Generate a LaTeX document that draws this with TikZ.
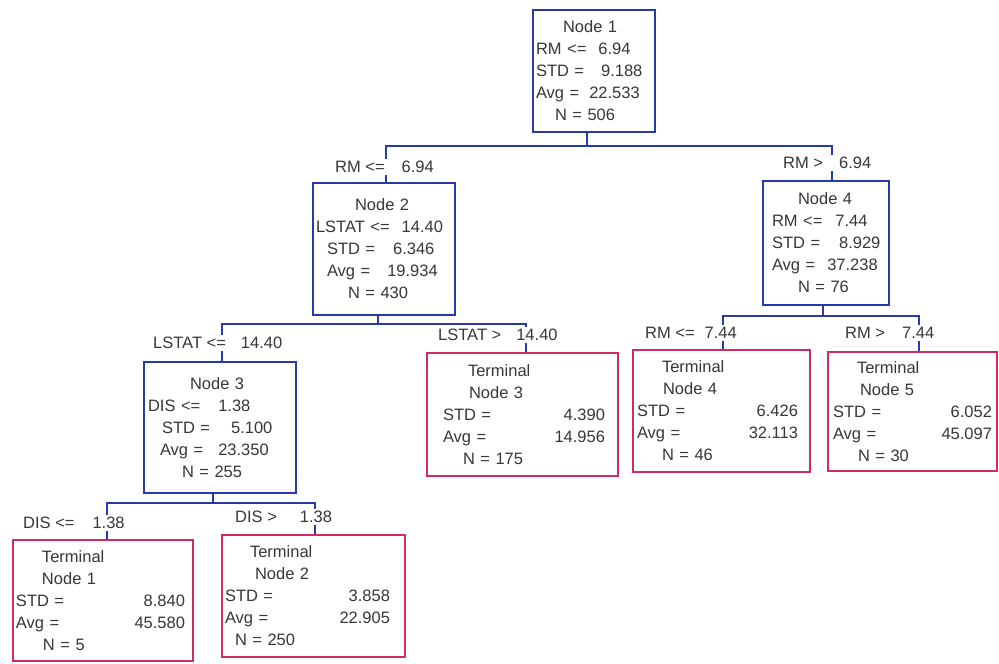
\documentclass[tikz,border=0pt]{standalone}
\usepackage{fontspec}
\setmainfont{Liberation Sans}
\definecolor{treeblue}{RGB}{38,58,168}
\definecolor{leafred}{RGB}{205,45,95}
\definecolor{ink}{RGB}{55,55,60}
\newcommand{\treesize}{\fontsize{16.5}{22}\selectfont}

\begin{document}
\begin{tikzpicture}[x=1pt,y=-1pt,
  split/.style={draw=treeblue, line width=2pt, inner xsep=3pt, inner ysep=0pt,
                align=left, font=\treesize, text=ink},
  leaf/.style={draw=leafred, line width=1.3pt, inner xsep=3pt, inner ysep=0pt,
               align=left, font=\treesize, text=ink},
  link/.style={draw=treeblue, line width=1.6pt},
  cond/.style={fill=white, inner xsep=1pt, inner ysep=2pt, anchor=west,
               font=\treesize, text=ink},
]
\fill[white] (0,0) rectangle (999,664);
\useasboundingbox (0,0) rectangle (999,664);

% ---------- split nodes ----------
\node[split, text width=116pt, minimum height=122pt] (n1) at (594,71)
  {\hspace*{27pt}Node 1\\
   RM <=\hspace{12pt}6.94\\
   STD =\hspace{17pt}9.188\\
   Avg =\hspace{10pt}22.533\\
   \hspace*{19pt}N = 506};

\node[split, text width=136pt, minimum height=132pt] (n2) at (384,249)
  {\hspace*{39pt}Node 2\\
   LSTAT <=\hspace{12pt}14.40\\
   \hspace*{11pt}STD =\hspace{18pt}6.346\\
   \hspace*{11pt}Avg =\hspace{17pt}19.934\\
   \hspace*{32pt}N = 430};

\node[split, text width=120pt, minimum height=124pt] (n4) at (826,243)
  {\hspace*{32pt}Node 4\\
   \hspace*{6pt}RM <=\hspace{13pt}7.44\\
   \hspace*{6pt}STD =\hspace{19pt}8.929\\
   \hspace*{6pt}Avg =\hspace{12pt}37.238\\
   \hspace*{32pt}N = 76};

\node[split, text width=146pt, minimum height=131pt] (n3) at (220,427.5)
  {\hspace*{43pt}Node 3\\
   \hspace*{1pt}DIS <=\hspace{18pt}1.38\\
   \hspace*{15pt}STD =\hspace{21pt}5.100\\
   \hspace*{13pt}Avg =\hspace{15pt}23.350\\
   \hspace*{35pt}N = 255};

% ---------- terminal nodes ----------
\node[leaf, text width=185pt, minimum height=123pt] (t3) at (522.5,414.5)
  {\hspace*{38pt}Terminal\\
   \hspace*{39pt}Node 3\\
   \hspace*{13pt}STD =\hfill 4.390\kern10pt\\
   \hspace*{13pt}Avg =\hfill 14.956\kern10pt\\
   \hspace*{33pt}N = 175};

\node[leaf, text width=171pt, minimum height=122pt] (t4) at (721.5,411)
  {\hspace*{26pt}Terminal\\
   \hspace*{27pt}Node 4\\
   \hspace*{1pt}STD =\hfill 6.426\kern9pt\\
   \hspace*{1pt}Avg =\hfill 32.113\kern9pt\\
   \hspace*{26pt}N = 46};

\node[leaf, text width=163pt, minimum height=119pt] (t5) at (912.5,411.5)
  {\hspace*{26pt}Terminal\\
   \hspace*{29pt}Node 5\\
   \hspace*{2pt}STD =\hfill 6.052\kern2pt\\
   \hspace*{2pt}Avg =\hfill 45.097\kern2pt\\
   \hspace*{27pt}N = 30};

\node[leaf, text width=174pt, minimum height=121pt] (t1) at (103,600.5)
  {\hspace*{26pt}Terminal\\
   \hspace*{26pt}Node 1\\
   STD =\hfill 8.840\kern5pt\\
   Avg =\hfill 45.580\kern5pt\\
   \hspace*{27pt}N = 5};

\node[leaf, text width=177pt, minimum height=122pt] (t2) at (313.5,596)
  {\hspace*{25pt}Terminal\\
   \hspace*{30pt}Node 2\\
   STD =\hfill 3.858\kern12pt\\
   Avg =\hfill 22.905\kern12pt\\
   \hspace*{10pt}N = 250};

% ---------- connectors ----------
% split 1 (RM)
\coordinate (s1) at (587,146);
\coordinate (b1l) at (386,146);
\coordinate (b1r) at (832,146);
\draw[link] (n1.south -| s1) -- (s1);
\draw[link] (n2.north -| b1l) -- (b1l) -- (b1r) -- (n4.north -| b1r);

% split 2 (LSTAT)
\coordinate (s2) at (378,324);
\coordinate (b2l) at (222,324);
\coordinate (b2r) at (526,324);
\draw[link] (n2.south -| s2) -- (s2);
\draw[link] (n3.north -| b2l) -- (b2l) -- (b2r) -- (t3.north -| b2r);

% split 4 (RM)
\coordinate (s4) at (823,316);
\coordinate (b4l) at (723,316);
\coordinate (b4r) at (919,316);
\draw[link] (n4.south -| s4) -- (s4);
\draw[link] (t4.north -| b4l) -- (b4l) -- (b4r) -- (t5.north -| b4r);

% split 3 (DIS)
\coordinate (s3) at (213,503);
\coordinate (b3l) at (107,503);
\coordinate (b3r) at (315,503);
\draw[link] (n3.south -| s3) -- (s3);
\draw[link] (t1.north -| b3l) -- (b3l) -- (b3r) -- (t2.north -| b3r);

% ---------- branch conditions ----------
\node[cond] (c2)  at (334,167) {RM <=\hspace{17pt}6.94};
\node[cond] (c4)  at (782,163) {RM >\hspace{16pt}6.94};
\node[cond] (c3)  at (152,343) {LSTAT <=\hspace{15pt}14.40};
\node[cond] (ct3) at (437,335) {LSTAT >\hspace{15pt}14.40};
\node[cond] (ct4) at (644,333) {RM <=\hspace{10pt}7.44};
\node[cond] (ct5) at (844,333) {RM >\hspace{17pt}7.44};
\node[cond] (ct1) at (22,523)  {DIS <=\hspace{18pt}1.38};
\node[cond] (ct2) at (234,517) {DIS >\hspace{23pt}1.38};
\end{tikzpicture}
\end{document}
